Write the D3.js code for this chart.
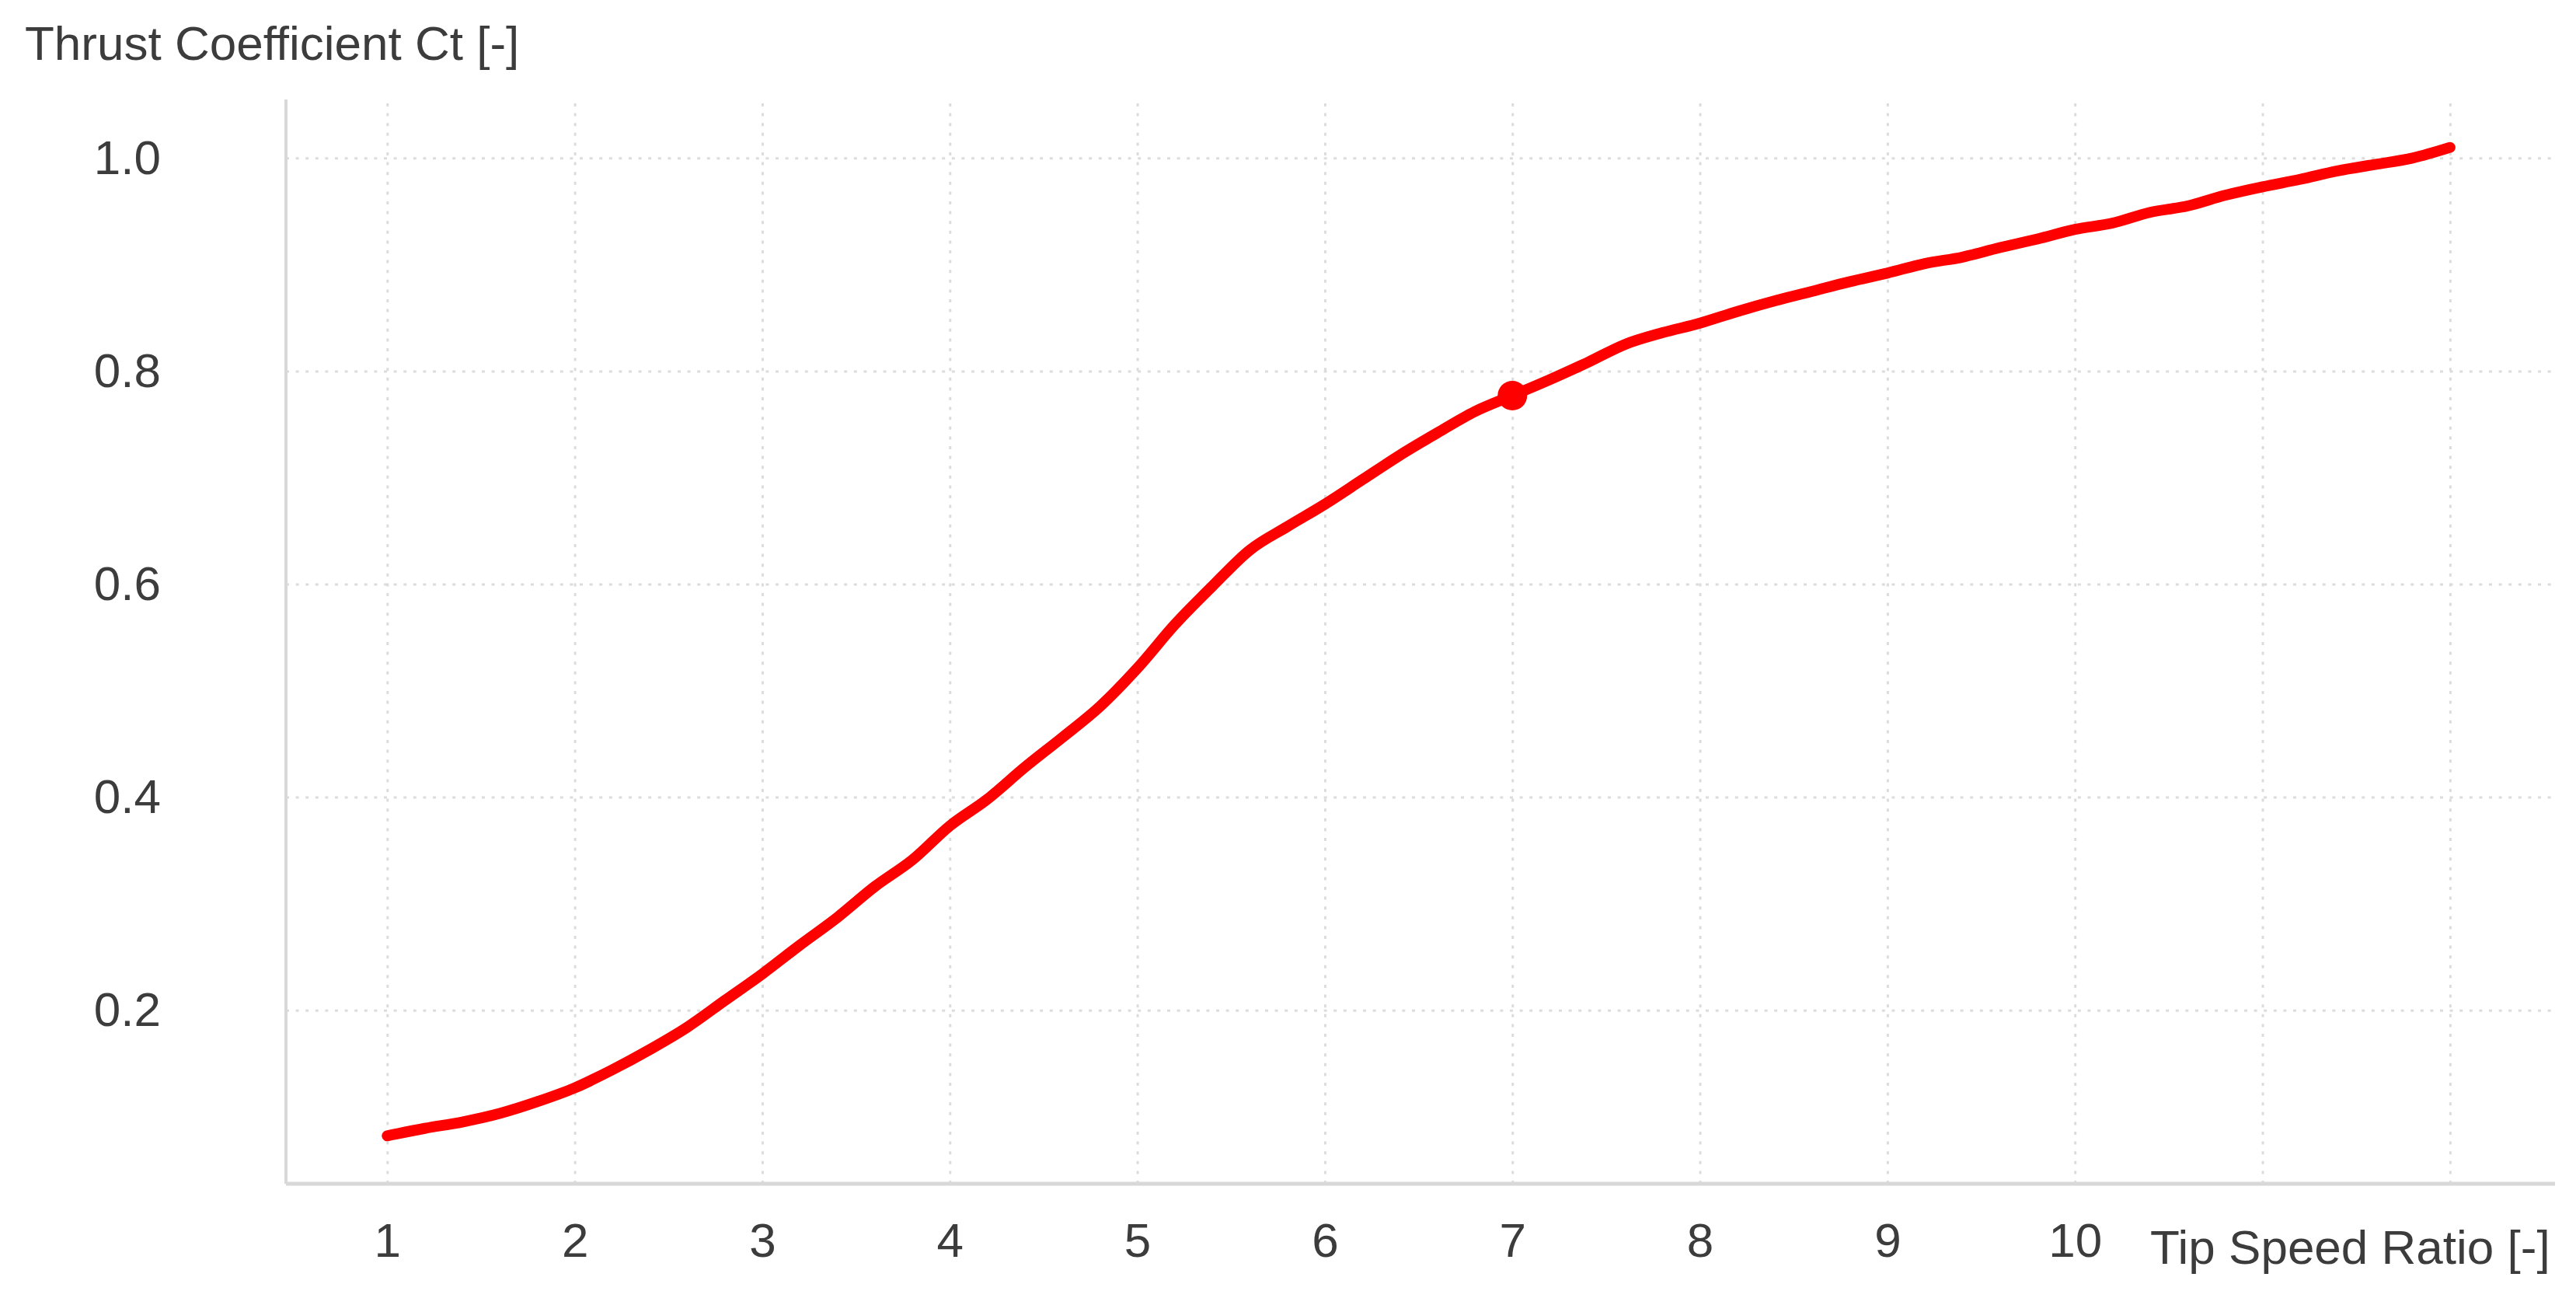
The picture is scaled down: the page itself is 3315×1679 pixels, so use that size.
<!DOCTYPE html>
<html>
<head>
<meta charset="utf-8">
<script src="https://cdnjs.cloudflare.com/ajax/libs/d3/7.8.5/d3.min.js"></script>
<style>
  body { margin: 0; background: #fff; }
  svg { display: block; background: #fff; }
  .grid line { stroke: #dcdcdc; stroke-width: 3; stroke-dasharray: 4 8.6; }
  .axis-line { stroke: #d8d8d8; }
  .label { fill: #3c3c3c; font-family: "Liberation Sans", Arial, sans-serif; font-size: 62px; }
</style>
</head>
<body>
<svg width="3315" height="1679"></svg>
<script>
'use strict';

// tip speed ratio (x) and thrust coefficient (y)
const tsr = [1.0, 1.2, 1.4, 1.6, 1.8, 2.0, 2.2, 2.4, 2.6, 2.8,
             3.0, 3.2, 3.4, 3.6, 3.8, 4.0, 4.2, 4.4, 4.6, 4.8,
             5.0, 5.2, 5.4, 5.6, 5.8, 6.0, 6.2, 6.4, 6.6, 6.8,
             7.0, 7.2, 7.4, 7.6, 7.8, 8.0, 8.2, 8.4, 8.6, 8.8,
             9.0, 9.2, 9.4, 9.6, 9.8, 10.0, 10.2, 10.4, 10.6, 10.8,
             11.0, 11.2, 11.4, 11.6, 11.8, 12.0];
const ct = [0.082, 0.089, 0.095, 0.103, 0.114, 0.127, 0.144, 0.163, 0.184, 0.209,
            0.234, 0.261, 0.287, 0.316, 0.341, 0.373, 0.398, 0.428, 0.456, 0.485,
            0.521, 0.562, 0.598, 0.632, 0.654, 0.675, 0.698, 0.721, 0.742, 0.762,
            0.777, 0.792, 0.808, 0.825, 0.836, 0.845, 0.856, 0.866, 0.875, 0.884,
            0.892, 0.901, 0.907, 0.916, 0.924, 0.933, 0.939, 0.949, 0.955, 0.965,
            0.973, 0.980, 0.988, 0.994, 1.000, 1.010];

// highlighted operating point
const markTsr = [7.0];
const markCt = [0.777];

const xGridValues = [1, 2, 3, 4, 5, 6, 7, 8, 9, 10, 11, 12];
const xTickLabels = [1, 2, 3, 4, 5, 6, 7, 8, 9, 10];
const yTickValues = [0.2, 0.4, 0.6, 0.8, 1.0];
const xDomain = [0.46, 12.56];
const yDomain = [0.037, 1.055];

const xTitle = "Tip Speed Ratio [-]";
const yTitle = "Thrust Coefficient Ct [-]";

const svg = d3.select("svg");
const margin = {top: 128, right: 3288, bottom: 1523, left: 368};

const x = d3.scaleLinear().domain(xDomain).range([margin.left, margin.right]);
const y = d3.scaleLinear().domain(yDomain).range([margin.bottom, margin.top]);

const data = tsr.map(function(t, i) { return {tsr: t, ct: ct[i]}; });

// dotted grid
svg.append("g")
    .attr("class", "grid")
    .attr("transform", "translate(0," + margin.bottom + ")")
    .call(d3.axisBottom(x).tickValues(xGridValues).tickSize(-(margin.bottom - margin.top)).tickFormat(""))
    .call(g => g.select(".domain").remove());

svg.append("g")
    .attr("class", "grid")
    .attr("transform", "translate(" + margin.left + ",0)")
    .call(d3.axisLeft(y).tickValues(yTickValues).tickSize(-(margin.right - margin.left)).tickFormat(""))
    .call(g => g.select(".domain").remove());

// axis lines
svg.append("line")
    .attr("class", "axis-line")
    .attr("x1", x.range()[0]).attr("x2", x.range()[1])
    .attr("y1", y.range()[0]).attr("y2", y.range()[0])
    .attr("stroke-width", 5);

svg.append("line")
    .attr("class", "axis-line")
    .attr("x1", x.range()[0]).attr("x2", x.range()[0])
    .attr("y1", y.range()[0]).attr("y2", y.range()[1])
    .attr("stroke-width", 4);

// tick labels
const xAxis = svg.append("g")
    .attr("transform", "translate(0," + margin.bottom + ")")
    .call(d3.axisBottom(x).tickValues(xTickLabels).tickSize(0).tickPadding(50).tickFormat(d3.format("d")));
xAxis.select(".domain").remove();
xAxis.selectAll("text").attr("class", "label");
xAxis.attr("font-size", null).attr("font-family", null);

const yAxis = svg.append("g")
    .attr("transform", "translate(" + margin.left + ",0)")
    .call(d3.axisLeft(y).tickValues(yTickValues).tickSize(0).tickPadding(161).tickFormat(d3.format(".1f")));
yAxis.select(".domain").remove();
yAxis.selectAll("text").attr("class", "label");
yAxis.attr("font-size", null).attr("font-family", null);

// axis titles
svg.append("text")
    .attr("class", "label")
    .attr("x", 32)
    .attr("y", 77)
    .text(yTitle);

svg.append("text")
    .attr("class", "label")
    .attr("x", 2767)
    .attr("y", 1626)
    .text(xTitle);

// curve
const line = d3.line()
    .curve(d3.curveMonotoneX)
    .x(function(d) { return x(d.tsr); })
    .y(function(d) { return y(d.ct); });

svg.append("path")
    .datum(data)
    .attr("fill", "none")
    .attr("stroke", "#ff0000")
    .attr("stroke-width", 14)
    .attr("stroke-linejoin", "round")
    .attr("stroke-linecap", "round")
    .attr("d", line);

svg.selectAll(".mark")
    .data(markTsr.map(function(t, i) { return {tsr: t, ct: markCt[i]}; }))
    .enter().append("circle")
    .attr("class", "mark")
    .attr("cx", function(d) { return x(d.tsr); })
    .attr("cy", function(d) { return y(d.ct); })
    .attr("r", 19)
    .attr("fill", "#ff0000");
</script>
</body>
</html>
